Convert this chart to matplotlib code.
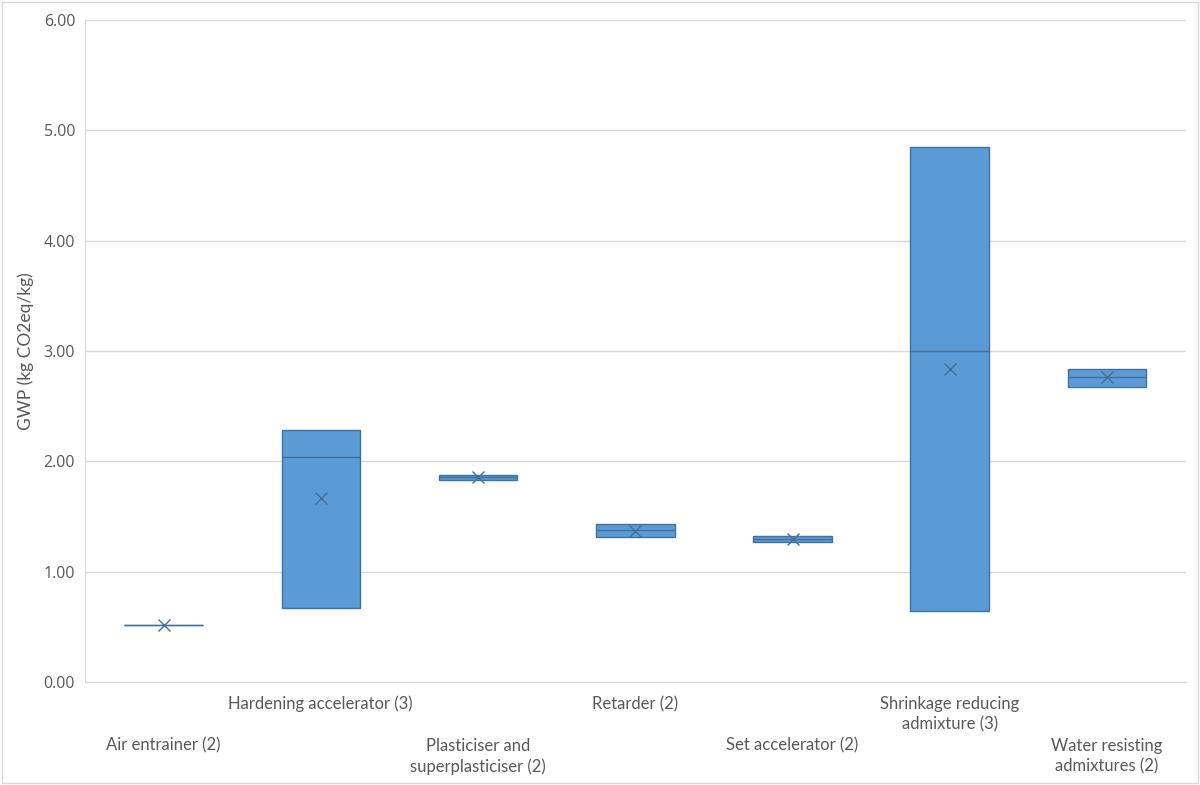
import matplotlib.pyplot as plt
from matplotlib.patches import Rectangle

# GWP of concrete admixtures (kg CO2eq/kg): min / median / max / mean per category
categories = ['Air entrainer (2)', 'Hardening accelerator (3)', 'Plasticiser and\nsuperplasticiser (2)',
              'Retarder (2)', 'Set accelerator (2)', 'Shrinkage reducing\nadmixture (3)',
              'Water resisting\nadmixtures (2)']
mins = [0.52, 0.67, 1.83, 1.31, 1.27, 0.64, 2.67]
medians = [0.52, 2.04, 1.86, 1.38, 1.30, 3.00, 2.76]
maxs = [0.52, 2.28, 1.88, 1.43, 1.32, 4.85, 2.84]
means = [0.52, 1.67, 1.86, 1.37, 1.30, 2.84, 2.76]

fill = '#5B9BD5'
edge = '#41719C'
grey = '#595959'

plt.rcParams['font.family'] = ['Lato', 'DejaVu Sans']

fig = plt.figure(figsize=(12, 7.85), dpi=100)
fig.patches.append(Rectangle((0.002, 0.003), 0.996, 0.994, transform=fig.transFigure,
                             fill=False, edgecolor='#d9d9d9', linewidth=1))
ax = fig.add_axes([0.0708, 0.1312, 0.9172, 0.8433])

stats = []
for i in range(len(categories)):
    stats.append({'med': medians[i], 'q1': mins[i], 'q3': maxs[i],
                  'whislo': mins[i], 'whishi': maxs[i], 'mean': means[i], 'fliers': []})

ax.bxp(stats, positions=range(len(categories)), widths=0.5, patch_artist=True,
       showmeans=True, showcaps=False,
       boxprops=dict(facecolor=fill, edgecolor=edge, linewidth=1),
       medianprops=dict(color=edge, linewidth=1),
       whiskerprops=dict(color=edge, linewidth=1),
       meanprops=dict(marker='x', markeredgecolor=edge, markersize=8, markeredgewidth=1))

ax.set_xlim(-0.5, len(categories) - 0.5)
ax.set_ylim(0, 6)
ax.set_yticks([0, 1, 2, 3, 4, 5, 6])
ax.set_yticklabels(['%.2f' % v for v in [0, 1, 2, 3, 4, 5, 6]], fontsize=11.5, color=grey,
                   family=['Open Sans', 'DejaVu Sans'])
ax.tick_params(axis='y', length=0, pad=7)
ax.yaxis.grid(True, color='#d9d9d9', linewidth=1)
ax.set_axisbelow(True)

ax.set_xticks(range(len(categories)))
ax.set_xticklabels(categories, fontsize=12, color=grey, linespacing=1.35)
ax.tick_params(axis='x', length=0)
for i, tick in enumerate(ax.xaxis.get_major_ticks()):
    tick.set_pad(10 if i % 2 == 1 else 40)

ax.set_ylabel('GWP (kg CO2eq/kg)', fontsize=12.5, color=grey, labelpad=7)

for s in ['top', 'right']:
    ax.spines[s].set_visible(False)
ax.spines['left'].set_color('#d9d9d9')
ax.spines['bottom'].set_color('#d9d9d9')

fig.savefig('out.png', dpi=100)
